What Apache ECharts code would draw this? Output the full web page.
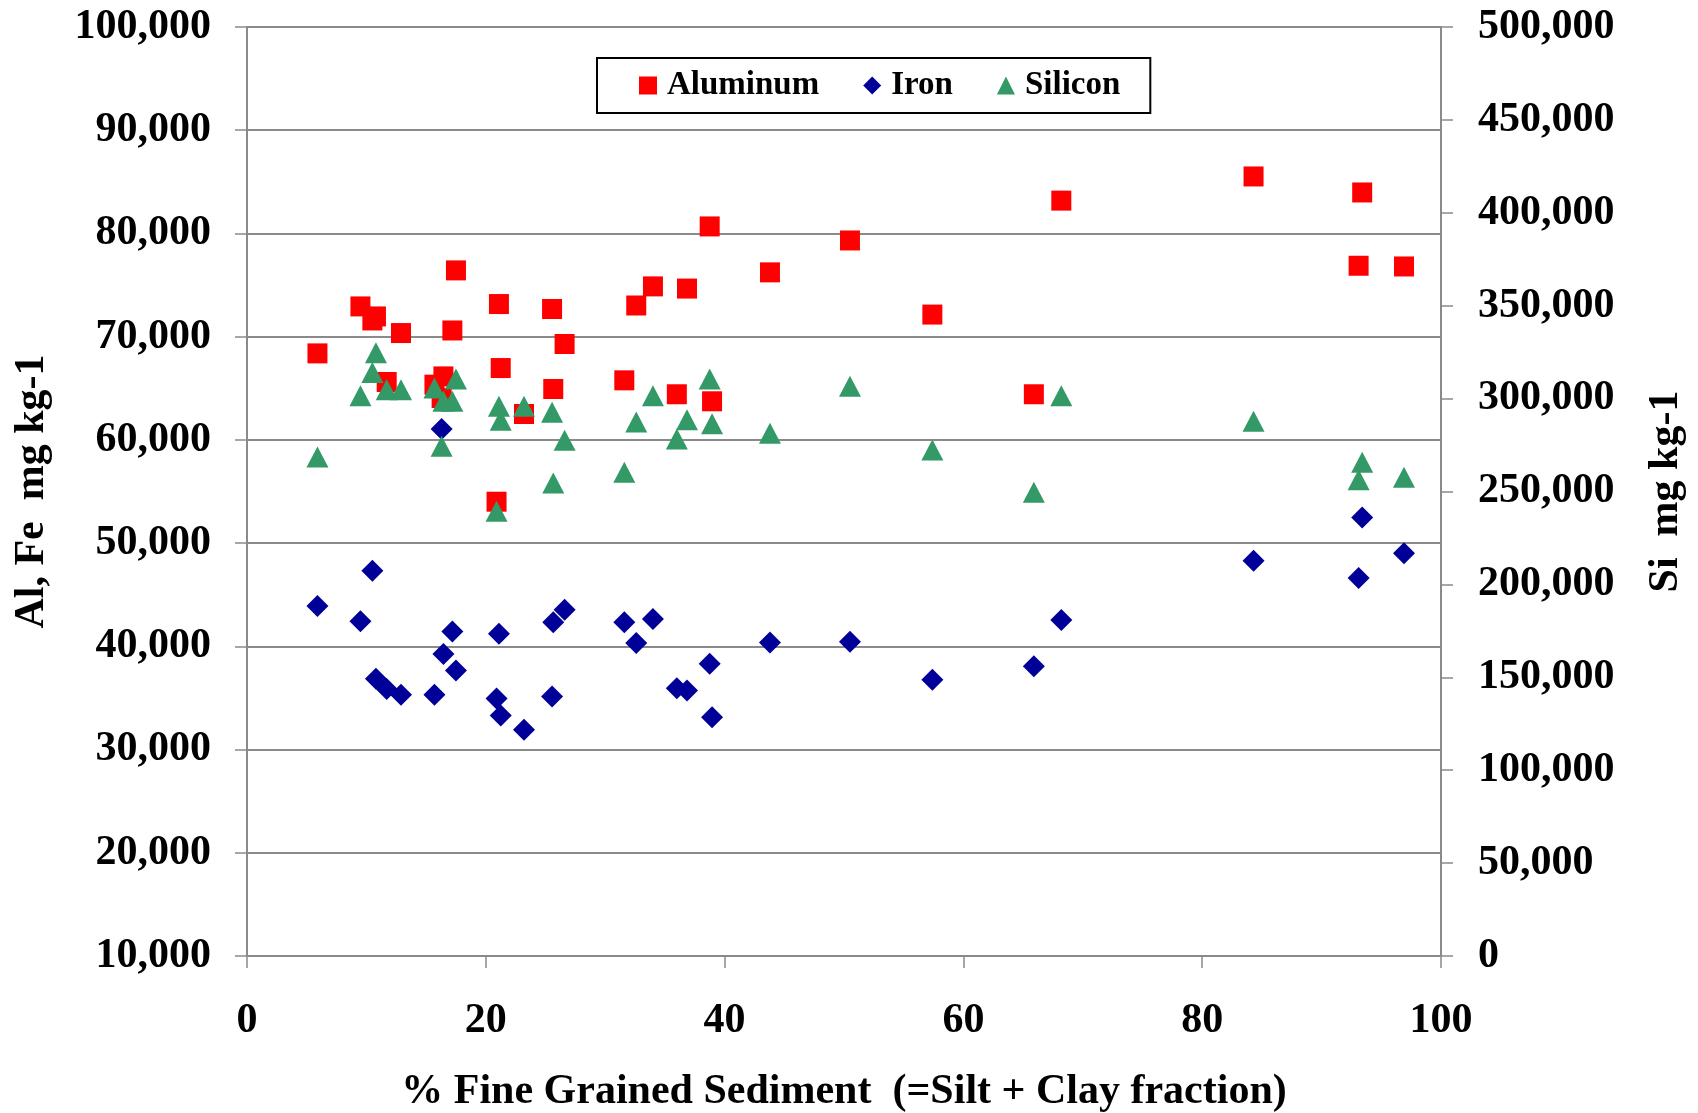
<!DOCTYPE html>
<html>
<head>
<meta charset="utf-8">
<script src="https://cdn.jsdelivr.net/npm/echarts@6/dist/echarts.min.js"></script>
<style>
html,body{margin:0;padding:0;background:#fff;}
#chart{width:1698px;height:1113px;}
</style>
</head>
<body>
<div id="chart"></div>
<script>
// % fine grained sediment (silt + clay fraction) for each sample
const fineFraction = [5.9, 9.5, 10.5, 10.8, 11.7, 12.9, 15.7, 16.3, 16.45, 17.2, 17.5, 20.9, 21.1, 21.25, 23.2, 25.55, 25.65, 26.6, 31.6, 32.6, 34.0, 36.0, 36.85, 38.75, 38.95, 43.8, 50.5, 57.4, 65.9, 68.2, 84.3, 93.1, 93.4, 96.9];
// Aluminum, mg kg-1 (left axis)
const aluminum = [68380, 72930, 71570, 71960, 65610, 70350, 65350, 64060, 66150, 70600, 76420, 54010, 73160, 66960, 62510, 72680, 64930, 69290, 65770, 73020, 74870, 64420, 74660, 80680, 63740, 76230, 79320, 72140, 64420, 83180, 85520, 76870, 83970, 76800];
// Iron, mg kg-1 (left axis)
const iron = [43910, 42420, 47330, 36850, 35870, 35320, 35320, 61060, 39250, 41430, 37650, 34940, 41230, 33290, 31930, 35130, 42330, 43550, 42330, 40330, 42650, 35930, 35710, 38320, 33120, 40360, 40440, 36770, 38060, 42550, 48300, 46620, 52490, 49010];
// Silicon, mg kg-1 (right axis)
const silicon = [268600, 301600, 314100, 324700, 304800, 304800, 305700, 274310, 298530, 298530, 310580, 239340, 295830, 288400, 295830, 292600, 254620, 277540, 260320, 287430, 301590, 278280, 288670, 310580, 286520, 281300, 306590, 272320, 249600, 301600, 287760, 256390, 265700, 257630];

const seriesNames = ['Aluminum', 'Iron', 'Silicon'];
const xTitle = '% Fine Grained Sediment  (=Silt + Clay fraction)';
const yLeftTitle = 'Al, Fe  mg kg-1';
const yRightTitle = 'Si  mg kg-1';

const FONT = '"Liberation Serif", "Times New Roman", serif';
const AXIS_GRAY = '#8a8a8a';
const pairs = (xs, ys) => xs.map((x, i) => [x, ys[i]]);
const fmt = v => Number(v).toLocaleString('en-US');

const chart = echarts.init(document.getElementById('chart'), null, {renderer: 'canvas'});
const labelStyle = {fontFamily: FONT, fontWeight: 'bold', fontSize: 42, color: '#000'};
const nameStyle = {fontFamily: FONT, fontWeight: 'bold', fontSize: 42, color: '#000'};

chart.setOption({
  backgroundColor: '#fff',
  animation: false,
  grid: {left: 247, right: 257, top: 27, bottom: 157, containLabel: false, outerBoundsMode: 'none'},
  legend: {
    left: 597, top: 58, orient: 'horizontal',
    padding: [10, 30, 10, 42],
    itemGap: 44, itemWidth: 18, itemHeight: 18,
    borderColor: '#000', borderWidth: 2,
    data: seriesNames,
    textStyle: {fontFamily: FONT, fontWeight: 'bold', fontSize: 33, color: '#000', padding: [0, 0, 0, 5], lineHeight: 35}
  },
  xAxis: {
    type: 'value', min: 0, max: 100, interval: 20,
    name: xTitle, nameLocation: 'middle', nameGap: 115,
    nameTextStyle: nameStyle,
    axisLine: {show: true, lineStyle: {color: AXIS_GRAY, width: 2}},
    axisTick: {show: true, inside: false, length: 12, lineStyle: {color: AXIS_GRAY, width: 1.5}},
    axisLabel: Object.assign({margin: 44}, labelStyle),
    splitLine: {show: false}
  },
  yAxis: [
    {
      type: 'value', position: 'left', min: 10000, max: 100000, interval: 10000,
      name: yLeftTitle, nameLocation: 'middle', nameGap: 194, nameRotate: 90,
      nameTextStyle: nameStyle,
      axisLine: {show: true, lineStyle: {color: AXIS_GRAY, width: 2}},
      axisTick: {show: true, inside: false, length: 12, lineStyle: {color: AXIS_GRAY, width: 1.5}},
      axisLabel: Object.assign({margin: 36, formatter: fmt}, labelStyle),
      splitLine: {show: true, lineStyle: {color: AXIS_GRAY, width: 2}}
    },
    {
      type: 'value', position: 'right', min: 0, max: 500000, interval: 50000,
      name: yRightTitle, nameLocation: 'middle', nameGap: 204, nameRotate: 90,
      nameTextStyle: nameStyle,
      axisLine: {show: true, lineStyle: {color: AXIS_GRAY, width: 2}},
      axisTick: {show: true, inside: false, length: 12, lineStyle: {color: AXIS_GRAY, width: 1.5}},
      axisLabel: Object.assign({margin: 37, formatter: fmt}, labelStyle),
      splitLine: {show: false}
    }
  ],
  series: [
    {
      name: seriesNames[0], type: 'scatter', yAxisIndex: 0,
      symbol: 'rect', symbolSize: 20,
      itemStyle: {color: '#ff0000', opacity: 1},
      data: pairs(fineFraction, aluminum), z: 2
    },
    {
      name: seriesNames[1], type: 'scatter', yAxisIndex: 0,
      symbol: 'diamond', symbolSize: [22, 22],
      itemStyle: {color: '#000099', opacity: 1},
      data: pairs(fineFraction, iron), z: 3
    },
    {
      name: seriesNames[2], type: 'scatter', yAxisIndex: 1,
      symbol: 'triangle', symbolSize: [22, 21],
      itemStyle: {color: '#339966', opacity: 1},
      data: pairs(fineFraction, silicon), z: 4
    }
  ]
});
</script>
</body>
</html>
